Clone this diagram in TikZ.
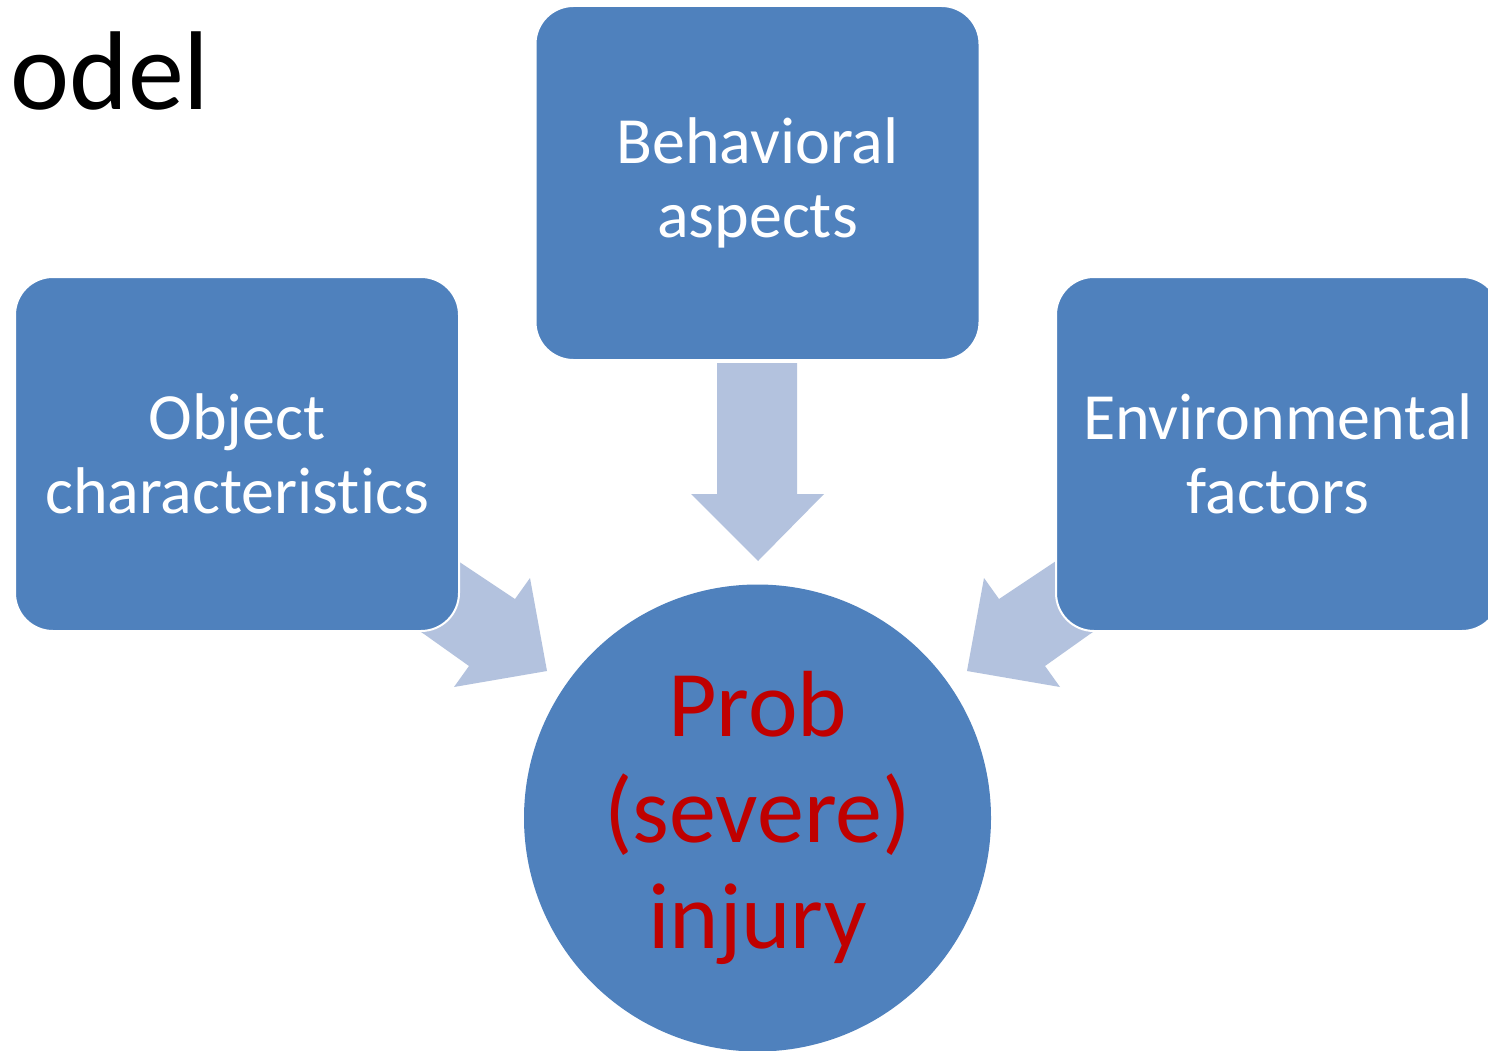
\documentclass[tikz,border=0pt]{standalone}
\usepackage{fontspec}
\setmainfont[Ligatures={NoCommon}]{Carlito}
\definecolor{boxblue}{HTML}{4F81BD}
\definecolor{arrowblue}{HTML}{B3C2DE}
\definecolor{injred}{HTML}{C00000}
\begin{document}
\begin{tikzpicture}[x=1pt,y=-1pt,
  factorbox/.style={rectangle, rounded corners=38pt, fill=boxblue, draw=white, line width=2pt,
    minimum width=444pt, minimum height=354pt, inner sep=0pt, align=center, text=white,
    font=\fontsize{66}{74}\selectfont},
  outcome/.style={circle, fill=boxblue, minimum size=467pt, inner sep=0pt, align=center,
    text=injred, font=\fontsize{94}{106}\selectfont},
  blockarrow/.style={fill=arrowblue, draw=none}]
\useasboundingbox (0,0) rectangle (1488,1051);
\clip (0,0) rectangle (1488,1051);
\fill[white] (0,0) rectangle (1488,1051);
\node[anchor=base west, inner sep=0pt, font=\fontsize{112}{120}\selectfont] (title) at (10,110) {odel};
% block arrows (drawn first, boxes cover their tails)
\fill[blockarrow] (411,530) -- (461,563) -- (515,599) -- (530,578) -- (547,671) -- (454,687) -- (469,666) -- (424,634) -- (374,601) -- cycle;
\fill[blockarrow] (1103,530) -- (1053,563) -- (999,599) -- (984,578) -- (967,671) -- (1060,687) -- (1045,666) -- (1090,634) -- (1140,601) -- cycle;
\fill[blockarrow] (717,363) -- (797,363) -- (797,494) -- (824,494) -- (758,561) -- (691,494) -- (717,494) -- cycle;
\node[factorbox] (beh) at (757.5,183) {Behavioral\\aspects};
\node[factorbox] (obj) at (237,454) {Object\\characteristics};
\node[factorbox] (env) at (1278,454) {Environmental\\factors};
\node[outcome] (inj) at (757.5,818) {Prob\\(severe)\\injury};
\end{tikzpicture}
\end{document}
